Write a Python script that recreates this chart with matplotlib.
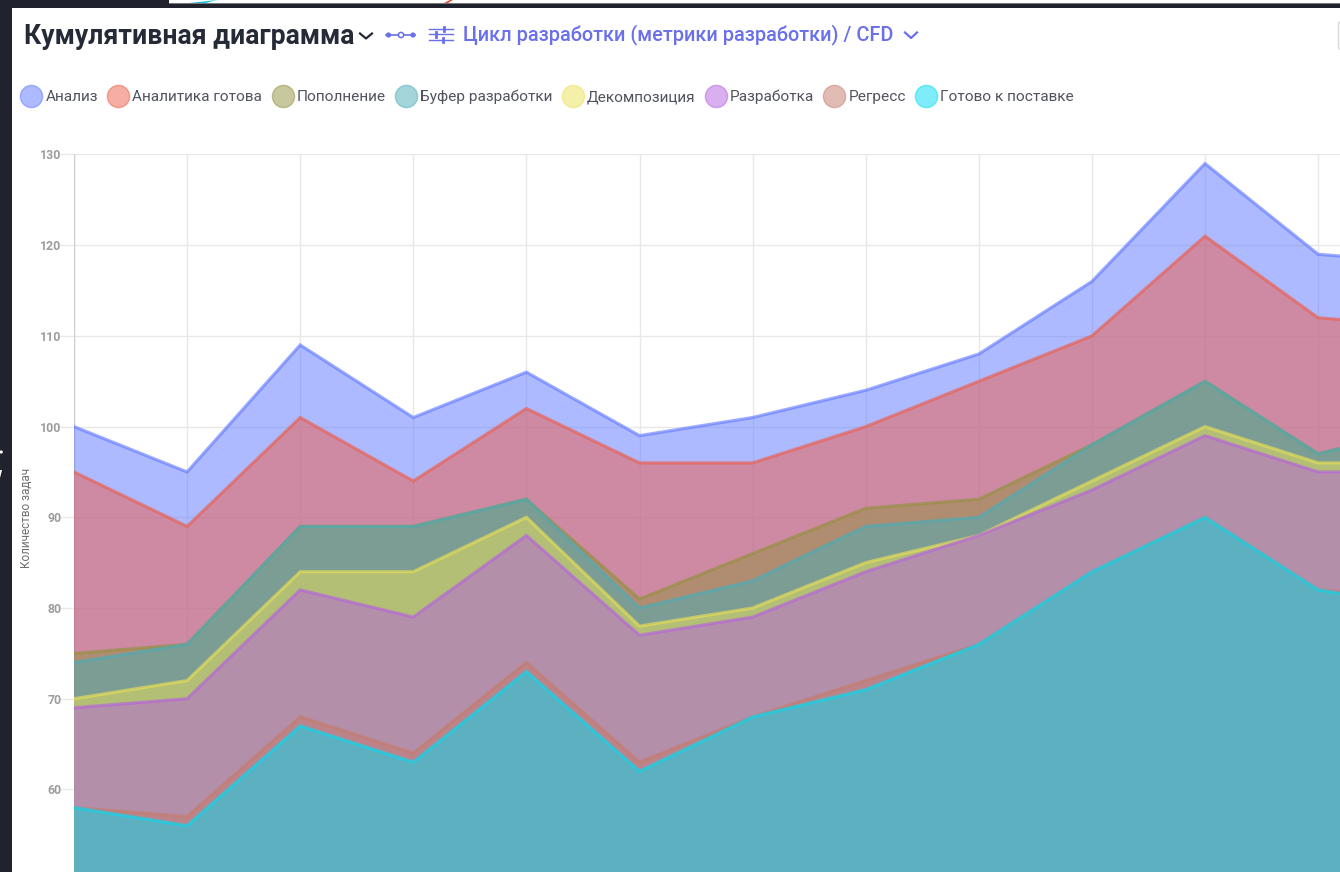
import matplotlib
matplotlib.use("Agg")
import matplotlib.pyplot as plt
from matplotlib.lines import Line2D
from matplotlib.patches import Rectangle, FancyBboxPatch, Circle, Polygon

plt.rcParams['font.family'] = ['Roboto', 'DejaVu Sans']

periods = list(range(13))
series_names = ["Анализ", "Аналитика готова", "Пополнение", "Буфер разработки",
                "Декомпозиция", "Разработка", "Регресс", "Готово к поставке"]
analysis = [100, 95, 109, 101, 106, 99, 101, 104, 108, 116, 129, 119, 118]
analytics_ready = [95, 89, 101, 94, 102, 96, 96, 100, 105, 110, 121, 112, 111]
replenishment = [75, 76, 89, 89, 92, 81, 86, 91, 92, 98, 105, 97, 100]
dev_buffer = [74, 76, 89, 89, 92, 80, 83, 89, 90, 98, 105, 97, 100]
decomposition = [70, 72, 84, 84, 90, 78, 80, 85, 88, 94, 100, 96, 96]
development = [69, 70, 82, 79, 88, 77, 79, 84, 88, 93, 99, 95, 95]
regress = [58, 57, 68, 64, 74, 63, 68, 72, 76, 84, 90, 82, 81]
ready = [58, 56, 67, 63, 73, 62, 68, 71, 76, 84, 90, 82, 80]
all_series = [analysis, analytics_ready, replenishment, dev_buffer,
              decomposition, development, regress, ready]
colors = ["#5F77FF", "#EE5C48", "#93913F", "#49ADB9",
          "#EBE155", "#B561E1", "#C57B6B", "#00DDF5"]
y_ticks = [60, 70, 80, 90, 100, 110, 120, 130]

W, H = 1340, 872
fig = plt.figure(figsize=(W / 100, H / 100), dpi=100, facecolor="white")
L, T = 74.0, 154.5
ax = fig.add_axes([L / W, 0, 1 - L / W, 1 - T / H])
ax.set_xlim(0, (W - L) / 113.1)
ax.set_ylim(130 - (H - T) / 9.07, 130)
ax.set_xticks(periods[:-1])
ax.set_yticks(y_ticks)
ax.set_xticklabels([])
ax.grid(True, color="#E8E8E8", lw=1)
ax.set_axisbelow(True)
for s in ax.spines.values():
    s.set_visible(False)
ax.tick_params(axis="x", length=0)
ax.tick_params(axis="y", length=11, width=1, color="#E8E8E8", pad=-2,
               labelsize=8.8, labelcolor="#9C9C9C")
for lab in ax.get_yticklabels():
    lab.set_fontweight("bold")

base = ax.get_ylim()[0]
for i, (vals, c) in enumerate(zip(all_series, colors)):
    ax.fill_between(periods, vals, base, color=c, alpha=0.5, lw=0, zorder=2 + i * 0.1)
    ax.plot(periods, vals, color=c, alpha=0.62, lw=2.3, zorder=2.05 + i * 0.1,
            solid_joinstyle="miter")
ax.axvline(0, color="#D0D0D0", lw=1, zorder=1.5)

ov = fig.add_axes([0, 0, 1, 1], zorder=5)
ov.set_xlim(0, W)
ov.set_ylim(H, 0)
ov.axis("off")
ov.patch.set_alpha(0)

dark = "#20222E"
ov.add_patch(Rectangle((0, 0), 12, H, color=dark, lw=0))
ov.add_patch(Rectangle((0, 0), W, 8.5, color=dark, lw=0))
ov.add_patch(Rectangle((169, 0), W - 169, 2.6, color="white", lw=0))
ov.add_patch(Rectangle((169, 2.6), W - 169, 1.2, color="#777777", lw=0))
ov.add_patch(Polygon([(189, 3), (217, 0), (206, 3)], color="#19C6E6", lw=0))
ov.add_patch(Polygon([(444, 3), (450, 0), (453, 0), (448, 3)], color="#E8492F", lw=0))
ov.add_patch(Circle((1.2, 452), 1.6, color="white", lw=0))
ov.add_patch(Polygon([(0, 470), (2, 470), (0, 478)], color="white", lw=0))
ov.add_patch(FancyBboxPatch((1338.5, 21), 12, 29, boxstyle="round,pad=0,rounding_size=4",
                            fc="white", ec="#D9D9D9", lw=1))

ov.text(24, 37, "Кумулятивная диаграмма", fontsize=19.15, fontweight="bold",
        color="#252A37", va="center", ha="left")
accent = "#6A6FEA"
ov.text(463, 35, "Цикл разработки (метрики разработки) / CFD", fontsize=14.3,
        fontweight="medium", color=accent, va="center", ha="left")
ov.text(20, 518, "Количество задач", fontsize=8.5, color="#6F6F6F", rotation=90,
        va="center", ha="left")

# header icons
ov.plot([360, 366, 372], [33.5, 38.5, 33.5], color="#252A37", lw=1.6)
ov.plot([905, 911, 917], [32.5, 38, 32.5], color=accent, lw=1.6)
ov.plot([386, 415], [35, 35], color=accent, lw=1.2)
for cx in (388.5, 413):
    ov.add_patch(Circle((cx, 35), 2.6, color=accent, lw=0, zorder=3))
ov.add_patch(Circle((401, 35), 2.6, fc="white", ec=accent, lw=1.1, zorder=3))
for yy, xx in ((29, 444), (34.5, 436), (40, 443)):
    ov.plot([429, 453], [yy, yy], color=accent, lw=1)
    ov.plot([xx, xx], [yy - 2.2, yy + 2.2], color=accent, lw=2)

handles = [Line2D([], [], ls="none", marker="o", ms=16, mfc=c + "80", mec=c + "80", mew=1)
           for c in colors]
fig.legend(handles, series_names, loc="center left",
           bbox_to_anchor=(23, 97), bbox_transform=ov.transData, ncol=8, frameon=False,
           fontsize=11.05, labelcolor="#51545F", handlelength=1.1, handletextpad=0.36,
           columnspacing=0.78, borderpad=0, borderaxespad=0, markerscale=1)

fig.savefig("out.png", dpi=100)
